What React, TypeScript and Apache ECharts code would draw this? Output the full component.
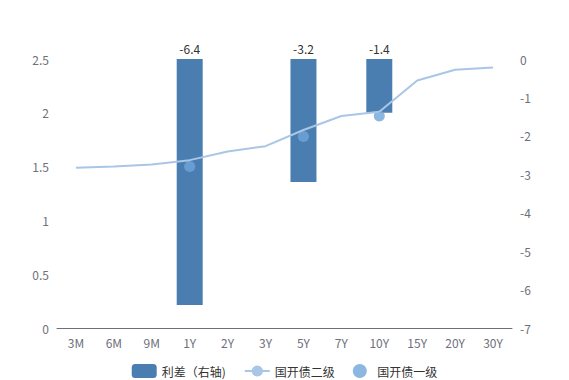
import React, { useEffect, useRef } from "react";
import * as echarts from "echarts";

const categories = ["3M", "6M", "9M", "1Y", "2Y", "3Y", "5Y", "7Y", "10Y", "15Y", "20Y", "30Y"];
const spread = [null, null, null, -6.4, null, null, -3.2, null, -1.4, null, null, null];
const secondary = [1.49, 1.50, 1.52, 1.56, 1.64, 1.69, 1.84, 1.97, 2.01, 2.30, 2.40, 2.42];
const primary = [null, null, null, 1.50, null, null, 1.78, null, 1.97, null, null, null];

export default function App() {
  const ref = useRef<HTMLDivElement>(null);
  useEffect(() => {
    document.body.style.margin = "0";
    document.body.style.overflow = "hidden";
    const chart = echarts.init(ref.current!, null, { renderer: "svg" });
    const font = "'Microsoft YaHei', 'Noto Sans CJK SC', sans-serif";
    chart.setOption({
      animation: false,
      textStyle: { fontFamily: font },
      grid: { left: 57, right: 57, top: 59, bottom: 52 },
      legend: {
        top: 359,
        itemGap: 18,
        textStyle: { color: "#333", fontSize: 12, fontFamily: font },
        data: [
          { name: "利差（右轴)", icon: "roundRect" },
          { name: "国开债二级" },
          { name: "国开债一级", icon: "circle" },
        ],
      },
      xAxis: {
        type: "category",
        data: categories,
        axisLine: { lineStyle: { color: "#6E7079" } },
        axisTick: { lineStyle: { color: "#6E7079" } },
        axisLabel: { color: "#6E7079", fontSize: 12, margin: 8 },
      },
      yAxis: [
        {
          type: "value",
          min: 0,
          max: 2.5,
          interval: 0.5,
          splitLine: { show: false },
          axisLine: { show: false },
          axisLabel: { color: "#6E7079", fontSize: 12 },
        },
        {
          type: "value",
          min: -7,
          max: 0,
          interval: 1,
          position: "right",
          splitLine: { show: false },
          axisLine: { show: false },
          axisLabel: { color: "#6E7079", fontSize: 12 },
        },
      ],
      series: [
        {
          name: "利差（右轴)",
          type: "bar",
          yAxisIndex: 1,
          data: spread,
          barWidth: 26,
          itemStyle: { color: "#4a7eb0" },
          label: { show: true, position: "top", color: "#333", fontSize: 12 },
        },
        {
          name: "国开债二级",
          type: "line",
          yAxisIndex: 0,
          data: secondary,
          showSymbol: false,
          symbol: "circle",
          itemStyle: { color: "#a9c6e6" },
          lineStyle: { color: "#a9c6e6", width: 2 },
        },
        {
          name: "国开债一级",
          type: "scatter",
          yAxisIndex: 0,
          data: primary,
          symbolSize: 11,
          itemStyle: { color: "#6fa5da" },
        },
      ],
    });
    return () => chart.dispose();
  }, []);
  return <div ref={ref} style={{ width: 569, height: 380 }} />;
}
